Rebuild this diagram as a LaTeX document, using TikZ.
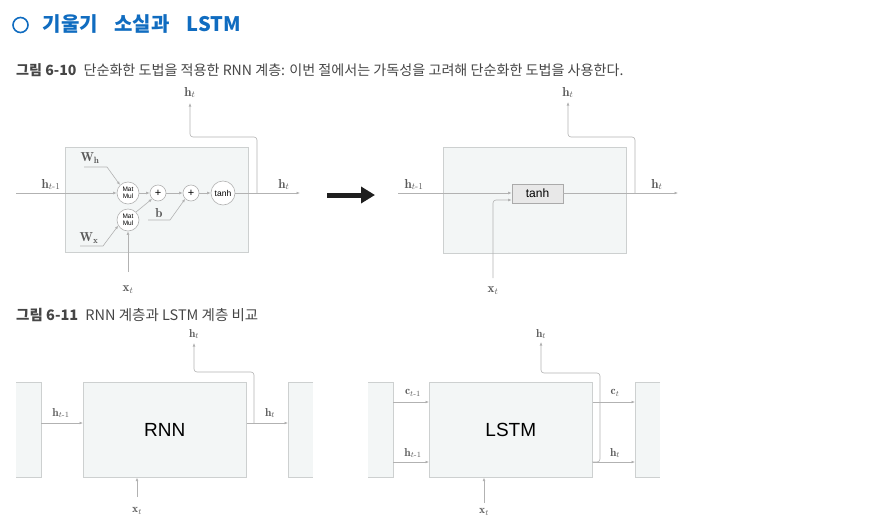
\documentclass[tikz,border=0pt]{standalone}
\usepackage{amsmath}
\usepackage{fontspec}
\setsansfont{Liberation Sans}
\newfontfamily\kr{Noto Sans CJK KR}
\usetikzlibrary{arrows.meta,calc}
\definecolor{titleblue}{RGB}{16,108,192}
\definecolor{capgray}{RGB}{70,70,70}
\definecolor{linegray}{RGB}{178,178,178}
\definecolor{boxfill}{RGB}{243,246,246}
\definecolor{boxdraw}{RGB}{205,208,208}
\definecolor{labgray}{RGB}{90,90,90}
\definecolor{tanhfill}{RGB}{232,232,232}
\definecolor{tanhdraw}{RGB}{170,170,170}
\tikzset{
  ln/.style={draw=linegray, line width=0.6pt},
  arr/.style={ln, -{Latex[length=3.5pt,width=2.8pt]}},
  bendarr/.style={arr, rounded corners=3pt},
  layerbox/.style={fill=boxfill, draw=boxdraw, line width=0.6pt, inner sep=0pt, anchor=north west},
  lbl/.style={text=labgray, font=\fontsize{13}{13}\selectfont, inner sep=0pt},
  slbl/.style={text=labgray, font=\fontsize{11.5}{11.5}\selectfont, inner sep=0pt},
  opc/.style={circle, fill=white, draw=linegray, line width=0.6pt, inner sep=0pt, text=black, font=\sffamily\fontsize{6.5}{7}\selectfont, align=center},
  bigname/.style={font=\sffamily\fontsize{19}{19}\selectfont, text=black},
  titletext/.style={anchor=west, inner sep=0pt, text=titleblue, font=\kr\bfseries\fontsize{20}{20}\selectfont},
  captext/.style={anchor=west, inner sep=0pt, text=capgray, font=\kr\fontsize{14.1}{14.1}\selectfont},
}
\newcommand{\lsub}{\text{-}}
\begin{document}
\begin{tikzpicture}[x=1pt,y=-1pt]
\useasboundingbox (0,0) rectangle (892,528);

% ---------- title & captions
\node[circle, draw=titleblue, line width=1.6pt, minimum size=15pt, inner sep=0pt] (tcirc) at (20.5,25) {};
\node[titletext] (title1) at (42.5,24) {기울기};
\node[titletext] (title2) at (114,24) {소실과};
\node[titletext] (title3) at (186.5,24) {LSTM};
\node[captext] (cap1) at (16,70) {{\bfseries 그림 6-10}\hspace{0.5em}단순화한 도법을 적용한 RNN 계층: 이번 절에서는 가독성을 고려해 단순화한 도법을 사용한다.};
\node[captext, font=\kr\fontsize{14.5}{14.5}\selectfont] (cap2) at (16,315) {{\bfseries 그림 6-11}\hspace{0.5em}RNN 계층과 LSTM 계층 비교};

% ---------- Diagram A (detailed RNN)
\node[layerbox, minimum width=183pt, minimum height=105pt] (boxA) at (65,147) {};
\node[opc, minimum size=22pt] (mm1) at (128,193) {Mat\\Mul};
\node[opc, minimum size=22pt] (mm2) at (128,220) {Mat\\Mul};
\node[opc, minimum size=16pt, font=\sffamily\fontsize{11}{11}\selectfont] (p1) at (158,193) {+};
\node[opc, minimum size=16pt, font=\sffamily\fontsize{11}{11}\selectfont] (p2) at (191,193) {+};
\node[opc, minimum size=24pt, font=\sffamily\fontsize{8.5}{8.5}\selectfont] (th) at (223,193) {tanh};
\coordinate (A-in) at (16,193);
\coordinate (A-out) at (300,193);
\coordinate (A-split) at (257,193);
\coordinate (A-bend) at (190,137);
\coordinate (A-top) at (190,103);
\coordinate (A-x) at (128,272);
\coordinate (Wh-s) at (84,167);
\coordinate (Wh-k) at (107,167);
\coordinate (Wx-s) at (80,246);
\coordinate (Wx-k) at (103,246);
\coordinate (b-s) at (148,220);
\coordinate (b-k) at (170,220);
\draw[arr] (A-in) -- (mm1);
\draw[arr] (mm1) -- (p1);
\draw[arr] (p1) -- (p2);
\draw[arr] (p2) -- (th);
\draw[arr] (th) -- (A-out);
\draw[bendarr] (A-split) |- (A-bend) -- (A-top);
\draw[arr] (Wh-s) -- (Wh-k) -- (mm1.north west);
\draw[arr] (Wx-s) -- (Wx-k) -- (mm2.210);
\draw[arr] (b-s) -- (b-k) -- (p2.south west);
\draw[arr] (mm2.north east) -- (p1.south west);
\draw[arr] (A-x) -- (mm2.south);
\node[lbl] (lA-hin) at (51,184.5) {$\mathbf{h}_{t\lsub1}$};
\node[lbl] (lA-hout) at (284,184.5) {$\mathbf{h}_t$};
\node[lbl] (lA-htop) at (190,92.5) {$\mathbf{h}_t$};
\node[lbl] (lA-x) at (128,290) {$\mathbf{x}_t$};
\node[lbl] (lA-Wh) at (90,158) {$\mathbf{W}_{\mathbf{h}}$};
\node[lbl] (lA-Wx) at (89,238) {$\mathbf{W}_{\mathbf{x}}$};
\node[lbl] (lA-b) at (159,213) {$\mathbf{b}$};

% ---------- big arrow
\coordinate (big-s) at (327,195);
\coordinate (big-e) at (375,195);
\draw[draw=black!88, line width=5pt, -{Triangle[length=14pt,width=16pt]}] (big-s) -- (big-e);

% ---------- Diagram B (simplified RNN)
\node[layerbox, minimum width=183pt, minimum height=106pt] (boxB) at (443,147) {};
\node[fill=tanhfill, draw=tanhdraw, line width=0.6pt, minimum width=51pt, minimum height=19pt, inner sep=0pt, font=\sffamily\fontsize{12}{12}\selectfont] (tanhB) at (537.5,193.5) {tanh};
\coordinate (B-in) at (398,193);
\coordinate (B-out) at (678,193);
\coordinate (B-split) at (635,193);
\coordinate (B-bend) at (568,137);
\coordinate (B-top) at (568,102);
\coordinate (B-x) at (493,278);
\coordinate (B-xb) at (493,200);
\draw[arr] (B-in) -- (tanhB.west |- B-in);
\draw[arr] (tanhB.east |- B-in) -- (B-out);
\draw[bendarr] (B-split) |- (B-bend) -- (B-top);
\draw[bendarr] (B-x) -- (B-xb) -- (tanhB.west |- B-xb);
\node[lbl] (lB-hin) at (414,184.5) {$\mathbf{h}_{t\lsub1}$};
\node[lbl] (lB-hout) at (657,184.5) {$\mathbf{h}_t$};
\node[lbl] (lB-htop) at (568,92.5) {$\mathbf{h}_t$};
\node[lbl] (lB-x) at (493,291) {$\mathbf{x}_t$};

% ---------- Diagram C (RNN layer)
\fill[boxfill] (16,382) rectangle (41,477);
\draw[draw=boxdraw, line width=0.6pt] (16,382) -- (41,382) -- (41,477) -- (16,477);
\fill[boxfill] (288,382) rectangle (313,477);
\draw[draw=boxdraw, line width=0.6pt] (313,382) -- (288,382) -- (288,477) -- (313,477);
\coordinate (C-lstub) at (41,423);
\coordinate (C-rstub) at (288,423);
\node[layerbox, minimum width=163pt, minimum height=95pt] (rnn) at (83,382) {};
\node[bigname] (rnnT) at (rnn.center) {RNN};
\coordinate (C-split) at (254,423);
\coordinate (C-bend) at (194,372);
\coordinate (C-top) at (194,343);
\coordinate (C-x) at (137,497);
\draw[arr] (C-lstub) -- (rnn.west |- C-lstub);
\draw[arr] (rnn.east |- C-rstub) -- (C-rstub);
\draw[bendarr] (C-split) |- (C-bend) -- (C-top);
\draw[arr] (C-x) -- (rnn.south -| C-x);
\node[slbl] (lC-hin) at (61,413) {$\mathbf{h}_{t\lsub1}$};
\node[slbl] (lC-hout) at (270,413) {$\mathbf{h}_t$};
\node[slbl] (lC-htop) at (194,334) {$\mathbf{h}_t$};
\node[slbl] (lC-x) at (137,511) {$\mathbf{x}_t$};

% ---------- Diagram D (LSTM layer)
\fill[boxfill] (368,382) rectangle (393,477);
\draw[draw=boxdraw, line width=0.6pt] (368,382) -- (393,382) -- (393,477) -- (368,477);
\fill[boxfill] (635,382) rectangle (660,477);
\draw[draw=boxdraw, line width=0.6pt] (660,382) -- (635,382) -- (635,477) -- (660,477);
\node[layerbox, minimum width=163pt, minimum height=95pt] (lstm) at (429,382) {};
\node[bigname] (lstmT) at (lstm.center) {LSTM};
\coordinate (D-cl) at (393,402);
\coordinate (D-hl) at (393,462);
\coordinate (D-cr) at (635,402);
\coordinate (D-hr) at (635,462);
\coordinate (D-split) at (600,462);
\coordinate (D-bend) at (541,373);
\coordinate (D-top) at (541,342);
\coordinate (D-x) at (484,503);
\draw[arr] (D-cl) -- (lstm.west |- D-cl);
\draw[arr] (D-hl) -- (lstm.west |- D-hl);
\draw[arr] (lstm.east |- D-cr) -- (D-cr);
\draw[arr] (lstm.east |- D-hr) -- (D-hr);
\draw[bendarr] ($(D-split)+(-8,0)$) -- (D-split) |- (D-bend) -- (D-top);
\draw[arr] (D-x) -- (lstm.south -| D-x);
\node[slbl] (lD-cin) at (413,393) {$\mathbf{c}_{t\lsub1}$};
\node[slbl] (lD-hin) at (413,453) {$\mathbf{h}_{t\lsub1}$};
\node[slbl] (lD-cout) at (615,393) {$\mathbf{c}_t$};
\node[slbl] (lD-hout) at (615,453) {$\mathbf{h}_t$};
\node[slbl] (lD-htop) at (541,334) {$\mathbf{h}_t$};
\node[slbl] (lD-x) at (484,512) {$\mathbf{x}_t$};
\end{tikzpicture}
\end{document}
